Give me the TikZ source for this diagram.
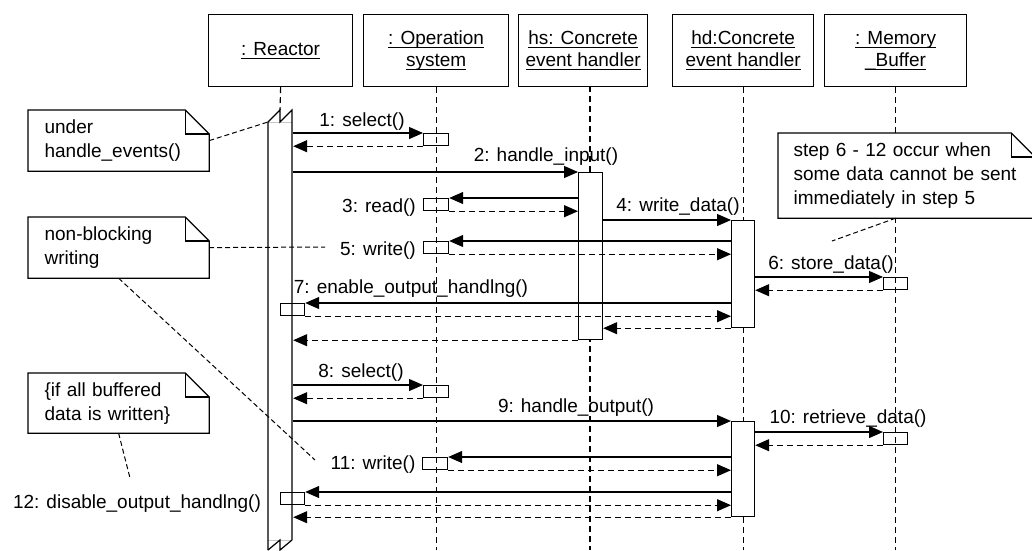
\documentclass[tikz,border=0pt]{standalone}
\usepackage{fontspec}
\setmainfont{Liberation Sans}
\usetikzlibrary{arrows.meta,calc}
\newcommand\myul[1]{\setbox0\hbox{#1}\rlap{\rule[-4pt]{\wd0}{1.2pt}}\box0}
\newcommand\notebox[1]{%
  \draw (#1.north west) -- ($(#1.north east)+(-24,0)$) -- ($(#1.north east)+(0,24)$) -- (#1.south east) -- (#1.south west) -- cycle;
  \draw ($(#1.north east)+(-24,0)$) |- ($(#1.north east)+(0,24)$);}
\begin{document}
\begin{tikzpicture}[x=1pt,y=-1pt,
  every node/.style={font=\fontsize{19}{24}\selectfont},
  line width=1.2pt,
  head/.style={draw, minimum height=72, anchor=north west, align=center, inner sep=0, font=\fontsize{19}{22}\selectfont},
  life/.style={dash pattern=on 6pt off 4pt, line width=1.1pt},
  bar/.style={draw, fill=white, anchor=north west, minimum width=24, inner sep=0},
  sbox/.style={draw, anchor=north west, minimum width=25, minimum height=12, inner sep=0},
  call/.style={-{Triangle[length=14pt,width=12pt]}},
  ret/.style={-{Triangle[length=14pt,width=12pt]}, dash pattern=on 6pt off 4pt},
  lbl/.style={anchor=base, inner sep=0},
  note/.style={fill=white, inner ysep=0, align=left, anchor=north west},
  noteline/.style={dash pattern=on 5pt off 3pt, line width=1pt},
]
\useasboundingbox (0,0) rectangle (1032,550);
\clip (0,0) rectangle (1032,550);

% heads
\node[head, minimum width=144] (reactor) at (208,14) {\myul{: Reactor}};
\node[head, minimum width=145] (os) at (363,14) {\myul{: Operation}\\\myul{system}};
\node[head, minimum width=129] (hs) at (518,14) {\myul{hs: Concrete}\\\myul{event handler}};
\node[head, minimum width=141] (hd) at (672,14) {\myul{hd:Concrete}\\\myul{event handler}};
\node[head, minimum width=142] (mem) at (824,14) {\myul{: Memory}\\\myul{\_Buffer}};

% lifelines
\coordinate (hsl) at (590,86);
\coordinate (rtop) at (280,110);
\draw[life] (reactor.south) -- (rtop);
\draw[life] (os.south) -- (os.south |- 0,550);
\draw[life] (hsl) -- (hsl |- 0,550);
\draw[life] (hd.south) -- (hd.south |- 0,550);
\draw[life] (mem.south) -- (mem.south |- 0,550);

% reactor activation
\node[inner sep=0, minimum width=24, minimum height=428, anchor=north west] (rbar) at (268,122) {};
\draw[gray!45, line width=0.6pt] (268,122) -- (292,122) (268,540) -- (292,540);
\draw (268,550) -- (rbar.north west) -- (rtop) -- (280,122) -- (292,110) -- (292,540);
\draw (268,550) -- (280,540) -- (280,550) -- (292,540);

% activation bars
\node[bar, minimum height=167] (hsbar) at (578,172) {};
\node[bar, minimum width=23, minimum height=107] (hdbar1) at (731,220) {};
\node[bar, minimum width=23, minimum height=95] (hdbar2) at (731,421) {};

% small boxes
\node[sbox] (b1) at (423,133) {};
\node[sbox] (b3) at (423,198) {};
\node[sbox] (b5) at (423,241) {};
\node[sbox] (b8) at (423,385) {};
\node[sbox] (b11) at (422,457) {};
\node[sbox, minimum width=24] (b6) at (883,277) {};
\node[sbox, minimum width=24] (b10) at (883,432) {};
\node[sbox, minimum width=24] (b7) at (280,303) {};
\node[sbox, minimum width=24] (b12) at (280,492) {};

% messages
\draw[call] (rbar.east |- b1.north) -- (b1.north west);
\draw[ret] (b1.south west) -- (rbar.east |- b1.south);
\draw[call] (rbar.east |- hsbar.north) -- (hsbar.north west);
\draw[call] (hsbar.west |- b3.north) -- (b3.north east);
\draw[ret] (b3.south east) -- (hsbar.west |- b3.south);
\draw[call] (hsbar.east |- hdbar1.north) -- (hdbar1.north west);
\draw[call] (hdbar1.west |- b5.north) -- (b5.north east);
\draw[ret] (b5.south east) -- (hdbar1.west |- b5.south);
\draw[call] (hdbar1.east |- b6.north) -- (b6.north west);
\draw[ret] (b6.south west) -- (hdbar1.east |- b6.south);
\draw[call] (hdbar1.west |- b7.north) -- (b7.north east);
\draw[ret] (b7.south east) -- (hdbar1.west |- b7.south);
\draw[ret] (hdbar1.south west) -- (hsbar.east |- hdbar1.south);
\draw[ret] (hsbar.south west) -- (rbar.east |- hsbar.south);
\draw[call] (rbar.east |- b8.north) -- (b8.north west);
\draw[ret] (b8.south west) -- (rbar.east |- b8.south);
\draw[call] (rbar.east |- hdbar2.north) -- (hdbar2.north west);
\draw[call] (hdbar2.east |- b10.north) -- (b10.north west);
\draw[ret] (b10.south west) -- (hdbar2.east |- b10.south);
\draw[call] (hdbar2.west |- b11.north) -- (b11.north east);
\draw[ret] (b11.south east) -- (hdbar2.west |- b11.south);
\draw[call] (hdbar2.west |- b12.north) -- (b12.north east);
\draw[ret] (b12.south east) -- (hdbar2.west |- b12.south);
\draw[ret] (hdbar2.south west) -- (rbar.east |- hdbar2.south);

% labels
\node[lbl] (l1) at (362,126) {1: select()};
\node[lbl] (l2) at (546,161) {2: handle\_input()};
\node[lbl] (l3) at (379,212) {3: read()};
\node[lbl] (l4) at (678,211) {4: write\_data()};
\node[lbl] (l5) at (378,255) {5: write()};
\node[lbl] (l6) at (831,269) {6: store\_data()};
\node[lbl] (l7) at (411,293) {7: enable\_output\_handlng()};
\node[lbl] (l8) at (361,377) {8: select()};
\node[lbl] (l9) at (576,412) {9: handle\_output()};
\node[lbl] (l10) at (848,423) {10: retrieve\_data()};
\node[lbl] (l11) at (373,469) {11: write()};
\node[lbl] (l12) at (137,508) {12: disable\_output\_handlng()};

% notes
\node[note, minimum width=180, minimum height=60, text width=148, inner xsep=16] (n1) at (28,110) {under\\handle\_events()};
\node[note, minimum width=180, minimum height=60, text width=148, inner xsep=16] (n2) at (28,217) {non-blocking\\writing};
\node[note, minimum width=180, minimum height=59, text width=148, inner xsep=16] (n3) at (28,373) {\{if all buffered\\data is written\}};
\node[note, minimum width=256, minimum height=84, text width=226, inner xsep=15] (n4) at (778,133) {step 6 - 12 occur when\\some data cannot be sent\\immediately in step 5};
\notebox{n1}
\notebox{n2}
\notebox{n3}
\notebox{n4}

% note connectors
\coordinate (e5) at (325,247);
\coordinate (e11) at (315,460);
\coordinate (e12) at (130,478);
\coordinate (e6) at (832,241);
\draw[noteline] (n1.east) -- (rbar.north west);
\draw[noteline] (n2.east) -- (e5);
\draw[noteline] (n2.south) -- (e11);
\draw[noteline] (n3.south) -- (e12);
\draw[noteline] (mem.south |- n4.south) -- (e6);
\end{tikzpicture}
\end{document}
